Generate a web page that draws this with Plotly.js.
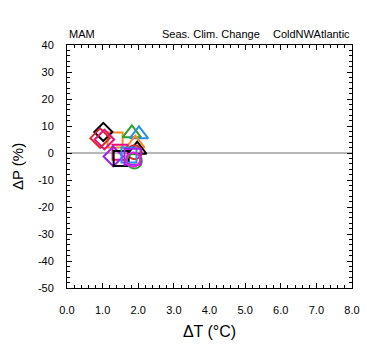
<!DOCTYPE html>
<html>
<head>
<meta charset="utf-8">
<script src="https://cdn.plot.ly/plotly-3.0.1.min.js"></script>
<style>html,body{margin:0;padding:0;background:#fff;}#chart{width:380px;height:355px;}</style>
</head>
<body>
<div id="chart"></div>
<script>
// Data (ΔT in °C, ΔP in %)
const dT = [1.35, 1.02, 0.93, 1.05, 1.82, 2.02, 1.92, 1.97, 1.90, 1.49, 1.30, 1.52, 1.74, 1.89, 1.84, 1.86];
const dP = [4.8, 7.8, 5.5, 5.0, 7.3, 6.9, 3.5, 1.2, 0.3, 0.3, -1.3, -2.0, -0.7, -3.0, -1.4, -2.4];
const yTickVals = [40, 30, 20, 10, 0, -10, -20, -30, -40, -50];
const yTickText = ["40", "30", "20", "10", "0", "-10", "-20", "-30", "-40", "-50"];
const xTickVals = [0, 1, 2, 3, 4, 5, 6, 7, 8];
const xTickText = ["0.0", "1.0", "2.0", "3.0", "4.0", "5.0", "6.0", "7.0", "8.0"];

// styles
const symbols = ["square-open","diamond-open","diamond-open","diamond-open","triangle-up-open","triangle-up-open","triangle-up-open","triangle-up-open","circle-open","square-open","diamond-open","square-open","square-open","circle-open","square-open","circle-open"];
const colors = ["#ff8c1a","#000000","#d62728","#e8107a","#2ca02c","#2b8fe0","#ff8c1a","#000000","#d62728","#e8107a","#a020f0","#000000","#2b8fe0","#2ca02c","#a020f0","#e020e0"];
const sizes = [15,14,15,15,16,16,16,16,14,15,15,15,15,15,16,14];

const traces = dT.map((x, i) => ({
  x: [x], y: [dP[i]], type: 'scatter', mode: 'markers', showlegend: false,
  marker: {symbol: symbols[i], size: sizes[i], color: colors[i], line: {width: 2, color: colors[i]}},
  hoverinfo: 'skip'
}));

const font = {family: 'Liberation Sans, Arial, sans-serif', color: '#000'};
const axisCommon = {
  showgrid: false, zeroline: false, showline: true, linecolor: '#000', linewidth: 1,
  mirror: 'ticks', ticks: 'inside', ticklen: 5, tickwidth: 1, tickcolor: '#000',
  tickfont: Object.assign({size: 11}, font), tickmode: 'array', fixedrange: true, automargin: false
};

const layout = {
  width: 380, height: 355,
  margin: {l: 67, r: 28, t: 45, b: 67},
  paper_bgcolor: '#fff', plot_bgcolor: '#fff',
  font: font,
  xaxis: Object.assign({}, axisCommon, {
    range: [0, 8], tickvals: xTickVals, ticktext: xTickText, ticklabelstandoff: 12,
    minor: {dtick: 0.2, tick0: 0, ticks: 'inside', ticklen: 3, tickcolor: '#000', tickwidth: 1},
    title: {text: 'ΔT (°C)', font: Object.assign({size: 16}, font), standoff: 10}
  }),
  yaxis: Object.assign({}, axisCommon, {
    range: [-50, 40], tickvals: yTickVals, ticktext: yTickText, ticklabelstandoff: 10,
    minor: {dtick: 2, tick0: 0, ticks: 'inside', ticklen: 3, tickcolor: '#000', tickwidth: 1},
    title: {text: 'ΔP (%)', font: Object.assign({size: 15}, font), standoff: 10}
  }),
  shapes: [{type: 'line', xref: 'paper', x0: 0, x1: 1, yref: 'y', y0: 0, y1: 0,
            line: {color: '#a0a0a0', width: 1.5}, layer: 'below'}],
  annotations: [
    {text: 'MAM', xref: 'paper', yref: 'paper', x: 0, y: 1, xanchor: 'left', yanchor: 'bottom', showarrow: false, font: Object.assign({size: 11}, font), yshift: 3},
    {text: 'Seas. Clim. Change', xref: 'paper', yref: 'paper', x: 0.5, y: 1, xanchor: 'center', yanchor: 'bottom', showarrow: false, font: Object.assign({size: 11}, font), yshift: 3, xshift: 1},
    {text: 'ColdNWAtlantic', xref: 'paper', yref: 'paper', x: 1, y: 1, xanchor: 'right', yanchor: 'bottom', showarrow: false, font: Object.assign({size: 11}, font), yshift: 3}
  ]
};

Plotly.newPlot('chart', traces, layout, {displayModeBar: false, staticPlot: true});
</script>
</body>
</html>
